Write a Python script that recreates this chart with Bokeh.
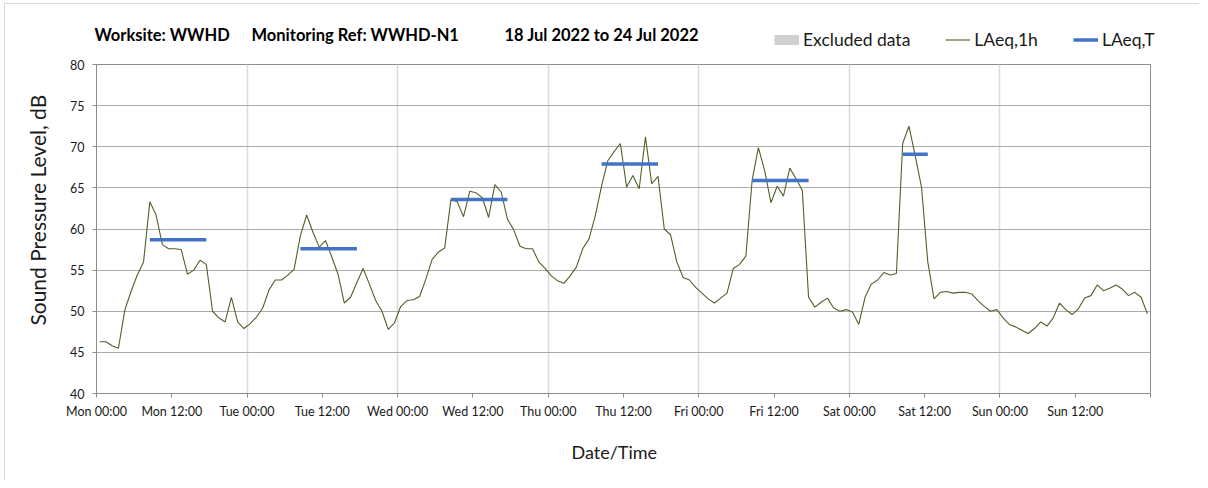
import numpy as np
from bokeh.plotting import figure
from bokeh.layouts import column
from bokeh.models import (Range1d, FixedTicker, Label, Legend, LegendItem,
                          ColumnDataSource)
from bokeh.embed import file_html
from bokeh.resources import INLINE

# ---------------- data ----------------
hours = list(range(168))  # hour index from Mon 00:00
laeq_1h = [
    # Mon
    46.3, 46.3, 45.8, 45.5, 50.1, 52.4, 54.4, 56.0, 63.3, 61.7, 58.1, 57.6,
    57.6, 57.5, 54.5, 55.0, 56.2, 55.7, 50.0, 49.2, 48.7, 51.7, 48.7, 47.9,
    # Tue
    48.5, 49.3, 50.4, 52.6, 53.8, 53.8, 54.4, 55.1, 59.2, 61.7, 59.6, 57.8,
    58.6, 56.6, 54.5, 51.0, 51.7, 53.5, 55.2, 53.3, 51.3, 50.0, 47.8, 48.6,
    # Wed
    50.6, 51.3, 51.4, 51.8, 53.9, 56.3, 57.2, 57.7, 63.6, 63.3, 61.5, 64.6,
    64.4, 63.8, 61.4, 65.4, 64.5, 61.2, 59.9, 57.9, 57.6, 57.6, 56.0, 55.2,
    # Thu
    54.3, 53.7, 53.4, 54.3, 55.4, 57.6, 58.8, 61.6, 65.2, 68.3, 69.4, 70.4,
    65.1, 66.5, 64.9, 71.2, 65.5, 66.4, 60.0, 59.3, 56.0, 54.1, 53.8, 52.9,
    # Fri
    52.2, 51.5, 51.0, 51.6, 52.2, 55.2, 55.7, 56.7, 65.9, 69.9, 67.1, 63.2,
    65.2, 64.0, 67.4, 66.1, 64.7, 51.7, 50.5, 51.1, 51.6, 50.4, 50.0, 50.2,
    # Sat
    49.9, 48.4, 51.7, 53.3, 53.8, 54.7, 54.4, 54.6, 70.4, 72.5, 68.9, 65.1,
    56.0, 51.5, 52.3, 52.4, 52.2, 52.3, 52.3, 52.1, 51.3, 50.6, 50.0, 50.2,
    # Sun
    49.2, 48.4, 48.1, 47.7, 47.3, 47.9, 48.7, 48.2, 49.2, 51.0, 50.2, 49.6,
    50.3, 51.6, 51.9, 53.2, 52.5, 52.8, 53.2, 52.7, 51.9, 52.3, 51.7, 49.7,
]
period_start = [8, 32, 56, 80, 104, 128]   # first hour of each LAeq,T period
period_end = [17, 41, 65, 89, 113, 132]    # last hour of each LAeq,T period
laeq_t = [58.7, 57.6, 63.6, 67.9, 65.9, 69.1]
excluded_start = []
excluded_end = []

tick_hours = list(range(0, 169, 12))
tick_labels = ["Mon 00:00", "Mon 12:00", "Tue 00:00", "Tue 12:00",
               "Wed 00:00", "Wed 12:00", "Thu 00:00", "Thu 12:00",
               "Fri 00:00", "Fri 12:00", "Sat 00:00", "Sat 12:00",
               "Sun 00:00", "Sun 12:00", ""]
day_hours = list(range(24, 168, 24))
y_ticks = list(range(40, 81, 5))
title_parts = ["Worksite: WWHD", "Monitoring Ref: WWHD-N1", "18 Jul 2022 to 24 Jul 2022"]

FONT = "Lato"
TXT = "#1a1a1a"
GREEN = "#4F6228"
BLUE = "#4472C4"
GREY = "#d0d0d0"
W = 1194
HH = 51

# ---------------- header (title + legend) ----------------
probe = figure(width=10, height=10)
free_frame = "frame_align" in probe.properties()

if free_frame:
    # header frame spans the whole header canvas: x in pixels from its left edge
    hdr = figure(width=W, height=HH, x_range=Range1d(0, W), y_range=Range1d(HH, 0),
                 output_backend="svg", toolbar_location=None, x_axis_type=None,
                 y_axis_type=None, min_border=0)
    hdr.frame_align = False
    title_x = [89, 246, 499]
    legend_loc = (769, 5)
else:
    hdr = figure(width=W, height=HH, x_range=Range1d(0, 168), y_range=Range1d(HH, 0),
                 output_backend="svg", toolbar_location=None, x_axis_type=None,
                 y_axis_type=None, min_border=0)
    title_x = [0.0, 24.86, 65.19]
    legend_loc = (672, 5)
hdr.grid.visible = False
hdr.outline_line_color = None
hdr.background_fill_color = "white"
hdr.border_fill_color = "white"
for xh, txt in zip(title_x, title_parts):
    hdr.add_layout(Label(x=xh, y=30.5, text=txt, text_font=FONT, text_font_size="16.5px",
                         text_font_style="bold", text_baseline="middle",
                         text_align="left", text_color="#000000"))
nan = [float("nan")]
l_ex = hdr.line(x=nan, y=nan, line_color=GREY, line_width=10, line_cap="butt")
l_1h = hdr.line(x=nan, y=nan, line_color=GREEN, line_width=1.1)
l_t = hdr.line(x=nan, y=nan, line_color=BLUE, line_width=3.5)
legend = Legend(items=[LegendItem(label="Excluded data", renderers=[l_ex]),
                       LegendItem(label="LAeq,1h", renderers=[l_1h]),
                       LegendItem(label="LAeq,T", renderers=[l_t])],
                location=legend_loc, orientation="horizontal",
                glyph_width=25, glyph_height=21, label_height=21,
                label_standoff=4, spacing=35, padding=0, margin=0,
                border_line_color=None, background_fill_alpha=0,
                label_text_font=FONT,
                label_text_font_size="17.5px" if free_frame else "16.5px",
                label_text_color=TXT)
hdr.add_layout(legend)

# ---------------- main chart ----------------
p = figure(width=W, height=425, x_range=Range1d(0, 168), y_range=Range1d(40, 80),
           output_backend="svg", toolbar_location=None,
           min_border_left=91, min_border_right=49, min_border_top=9,
           min_border_bottom=87)
p.background_fill_color = "white"
p.border_fill_color = "white"
p.outline_line_color = "#8c8c8c"
p.outline_line_width = 1

p.xaxis.ticker = FixedTicker(ticks=tick_hours)
p.xaxis.major_label_overrides = {h: lab for h, lab in zip(tick_hours, tick_labels)}
p.yaxis.ticker = FixedTicker(ticks=y_ticks)
for ax in (p.xaxis[0], p.yaxis[0]):
    ax.axis_line_color = "#8c8c8c"
    ax.major_tick_line_color = "#8c8c8c"
    ax.major_tick_out = 4
    ax.major_tick_in = 0
    ax.minor_tick_line_color = None
    ax.major_label_text_font = FONT
    ax.major_label_text_font_size = "12.5px"
    ax.major_label_text_color = TXT
    ax.axis_label_text_font = FONT
    ax.axis_label_text_font_style = "normal"
    ax.axis_label_text_color = TXT
p.xaxis.major_label_standoff = 6
p.yaxis.major_label_standoff = 8
NB = "\u00a0"
p.xaxis.axis_label = "Date/Time" + NB * 4
p.xaxis.axis_label_text_font_size = "18px"
p.xaxis.axis_label_standoff = 19
p.yaxis.axis_label = NB * 7 + "Sound Pressure Level, dB"
p.yaxis.axis_label_text_font_size = "21px"
p.yaxis.axis_label_standoff = 17

p.xgrid.ticker = FixedTicker(ticks=day_hours)
p.xgrid.grid_line_color = "#dadada"
p.xgrid.grid_line_width = 1.5
p.ygrid.ticker = FixedTicker(ticks=y_ticks)
p.ygrid.grid_line_color = "#ababab"
p.ygrid.grid_line_width = 1

src = ColumnDataSource(dict(x=np.array(hours) + 0.5, y=laeq_1h))
excl = ColumnDataSource(dict(x0=excluded_start, x1=excluded_end))
p.quad(left="x0", right="x1", bottom=40, top=80, source=excl,
       fill_color=GREY, line_color=None)
p.line("x", "y", source=src, line_color=GREEN, line_width=1.1)
tsrc = ColumnDataSource(dict(x0=np.array(period_start) + 0.5,
                             x1=np.array(period_end) + 0.5, y=laeq_t))
p.segment(x0="x0", x1="x1", y0="y", y1="y", source=tsrc,
          line_color=BLUE, line_width=3.5)

layout = column(hdr, p, spacing=0)
layout.styles = {"margin-left": "4px", "margin-top": "3px",
                 "border-left": "1px solid #d9d9d9", "border-top": "1px solid #d9d9d9"}
open("out.html", "w").write(file_html(layout, INLINE))
